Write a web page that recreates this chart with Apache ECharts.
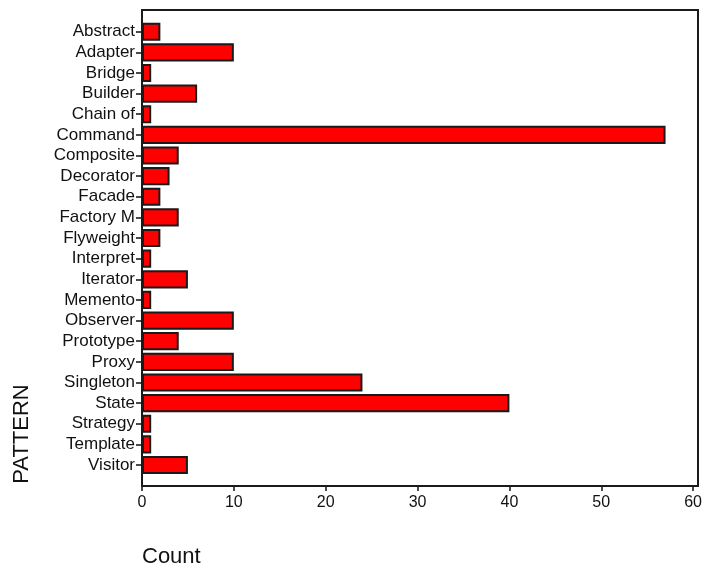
<!DOCTYPE html>
<html>
<head>
<meta charset="utf-8">
<script src="https://cdn.jsdelivr.net/npm/echarts@6/dist/echarts.min.js"></script>
<style>
  html, body { margin: 0; padding: 0; background: #ffffff; }
  #chart { width: 705px; height: 570px; }
</style>
</head>
<body>
<div id="chart"></div>
<script>
const categories = ["Abstract", "Adapter", "Bridge", "Builder", "Chain of", "Command", "Composite",
  "Decorator", "Facade", "Factory M", "Flyweight", "Interpret", "Iterator", "Memento", "Observer",
  "Prototype", "Proxy", "Singleton", "State", "Strategy", "Template", "Visitor"];
const counts = [2, 10, 1, 6, 1, 57, 4, 3, 2, 4, 2, 1, 5, 1, 10, 4, 10, 24, 40, 1, 1, 5];
const xTicks = [0, 10, 20, 30, 40, 50, 60];
const xTitle = "Count";
const yTitle = "PATTERN";

const FONT = "'Liberation Sans', Arial, sans-serif";
const chart = echarts.init(document.getElementById('chart'), null, { renderer: 'canvas' });

chart.setOption({
  backgroundColor: '#ffffff',
  animation: false,
  grid: [
    { left: 142, right: 7, top: 21.4, bottom: 94.7, containLabel: false },
    { left: 142, right: 7, top: 10, bottom: 84, show: true, borderColor: '#1a1a1a', borderWidth: 2, backgroundColor: 'transparent', z: 5 }
  ],
  xAxis: [
    {
      gridIndex: 0, type: 'value',
      min: xTicks[0], max: xTicks[xTicks.length - 1], interval: xTicks[1] - xTicks[0],
      offset: 10.7,
      axisLine: { show: true, lineStyle: { color: '#111', width: 2 } },
      axisTick: { show: true, length: 5, lineStyle: { color: '#111', width: 1.5 } },
      axisLabel: { fontFamily: FONT, fontSize: 16, color: '#111', margin: 9 },
      splitLine: { show: false }
    },
    { gridIndex: 1, type: 'value', show: false, min: 0, max: 1 }
  ],
  yAxis: [
    {
      gridIndex: 0, type: 'category', data: categories, inverse: true,
      axisLine: { show: false },
      axisTick: { show: true, length: 6, interval: 0, alignWithLabel: true, lineStyle: { color: '#111', width: 1.5 } },
      axisLabel: { interval: 0, fontFamily: FONT, fontSize: 17, color: '#111', margin: 7 },
      splitLine: { show: false }
    },
    { gridIndex: 1, type: 'value', show: false, min: 0, max: 1 }
  ],
  series: [{
    type: 'bar',
    xAxisIndex: 0, yAxisIndex: 0,
    data: counts,
    barCategoryGap: '12%',
    itemStyle: { color: '#ff0000', borderColor: '#1a1a1a', borderWidth: 2 }
  }],
  graphic: [
    {
      type: 'text', left: 142, top: 546,
      style: { text: xTitle, font: '22px ' + FONT, fill: '#111' }
    },
    {
      type: 'text', x: 22, y: 434, rotation: Math.PI / 2,
      style: { text: yTitle, font: '22px ' + FONT, fill: '#111', align: 'center', verticalAlign: 'middle' }
    }
  ]
});
</script>
</body>
</html>
